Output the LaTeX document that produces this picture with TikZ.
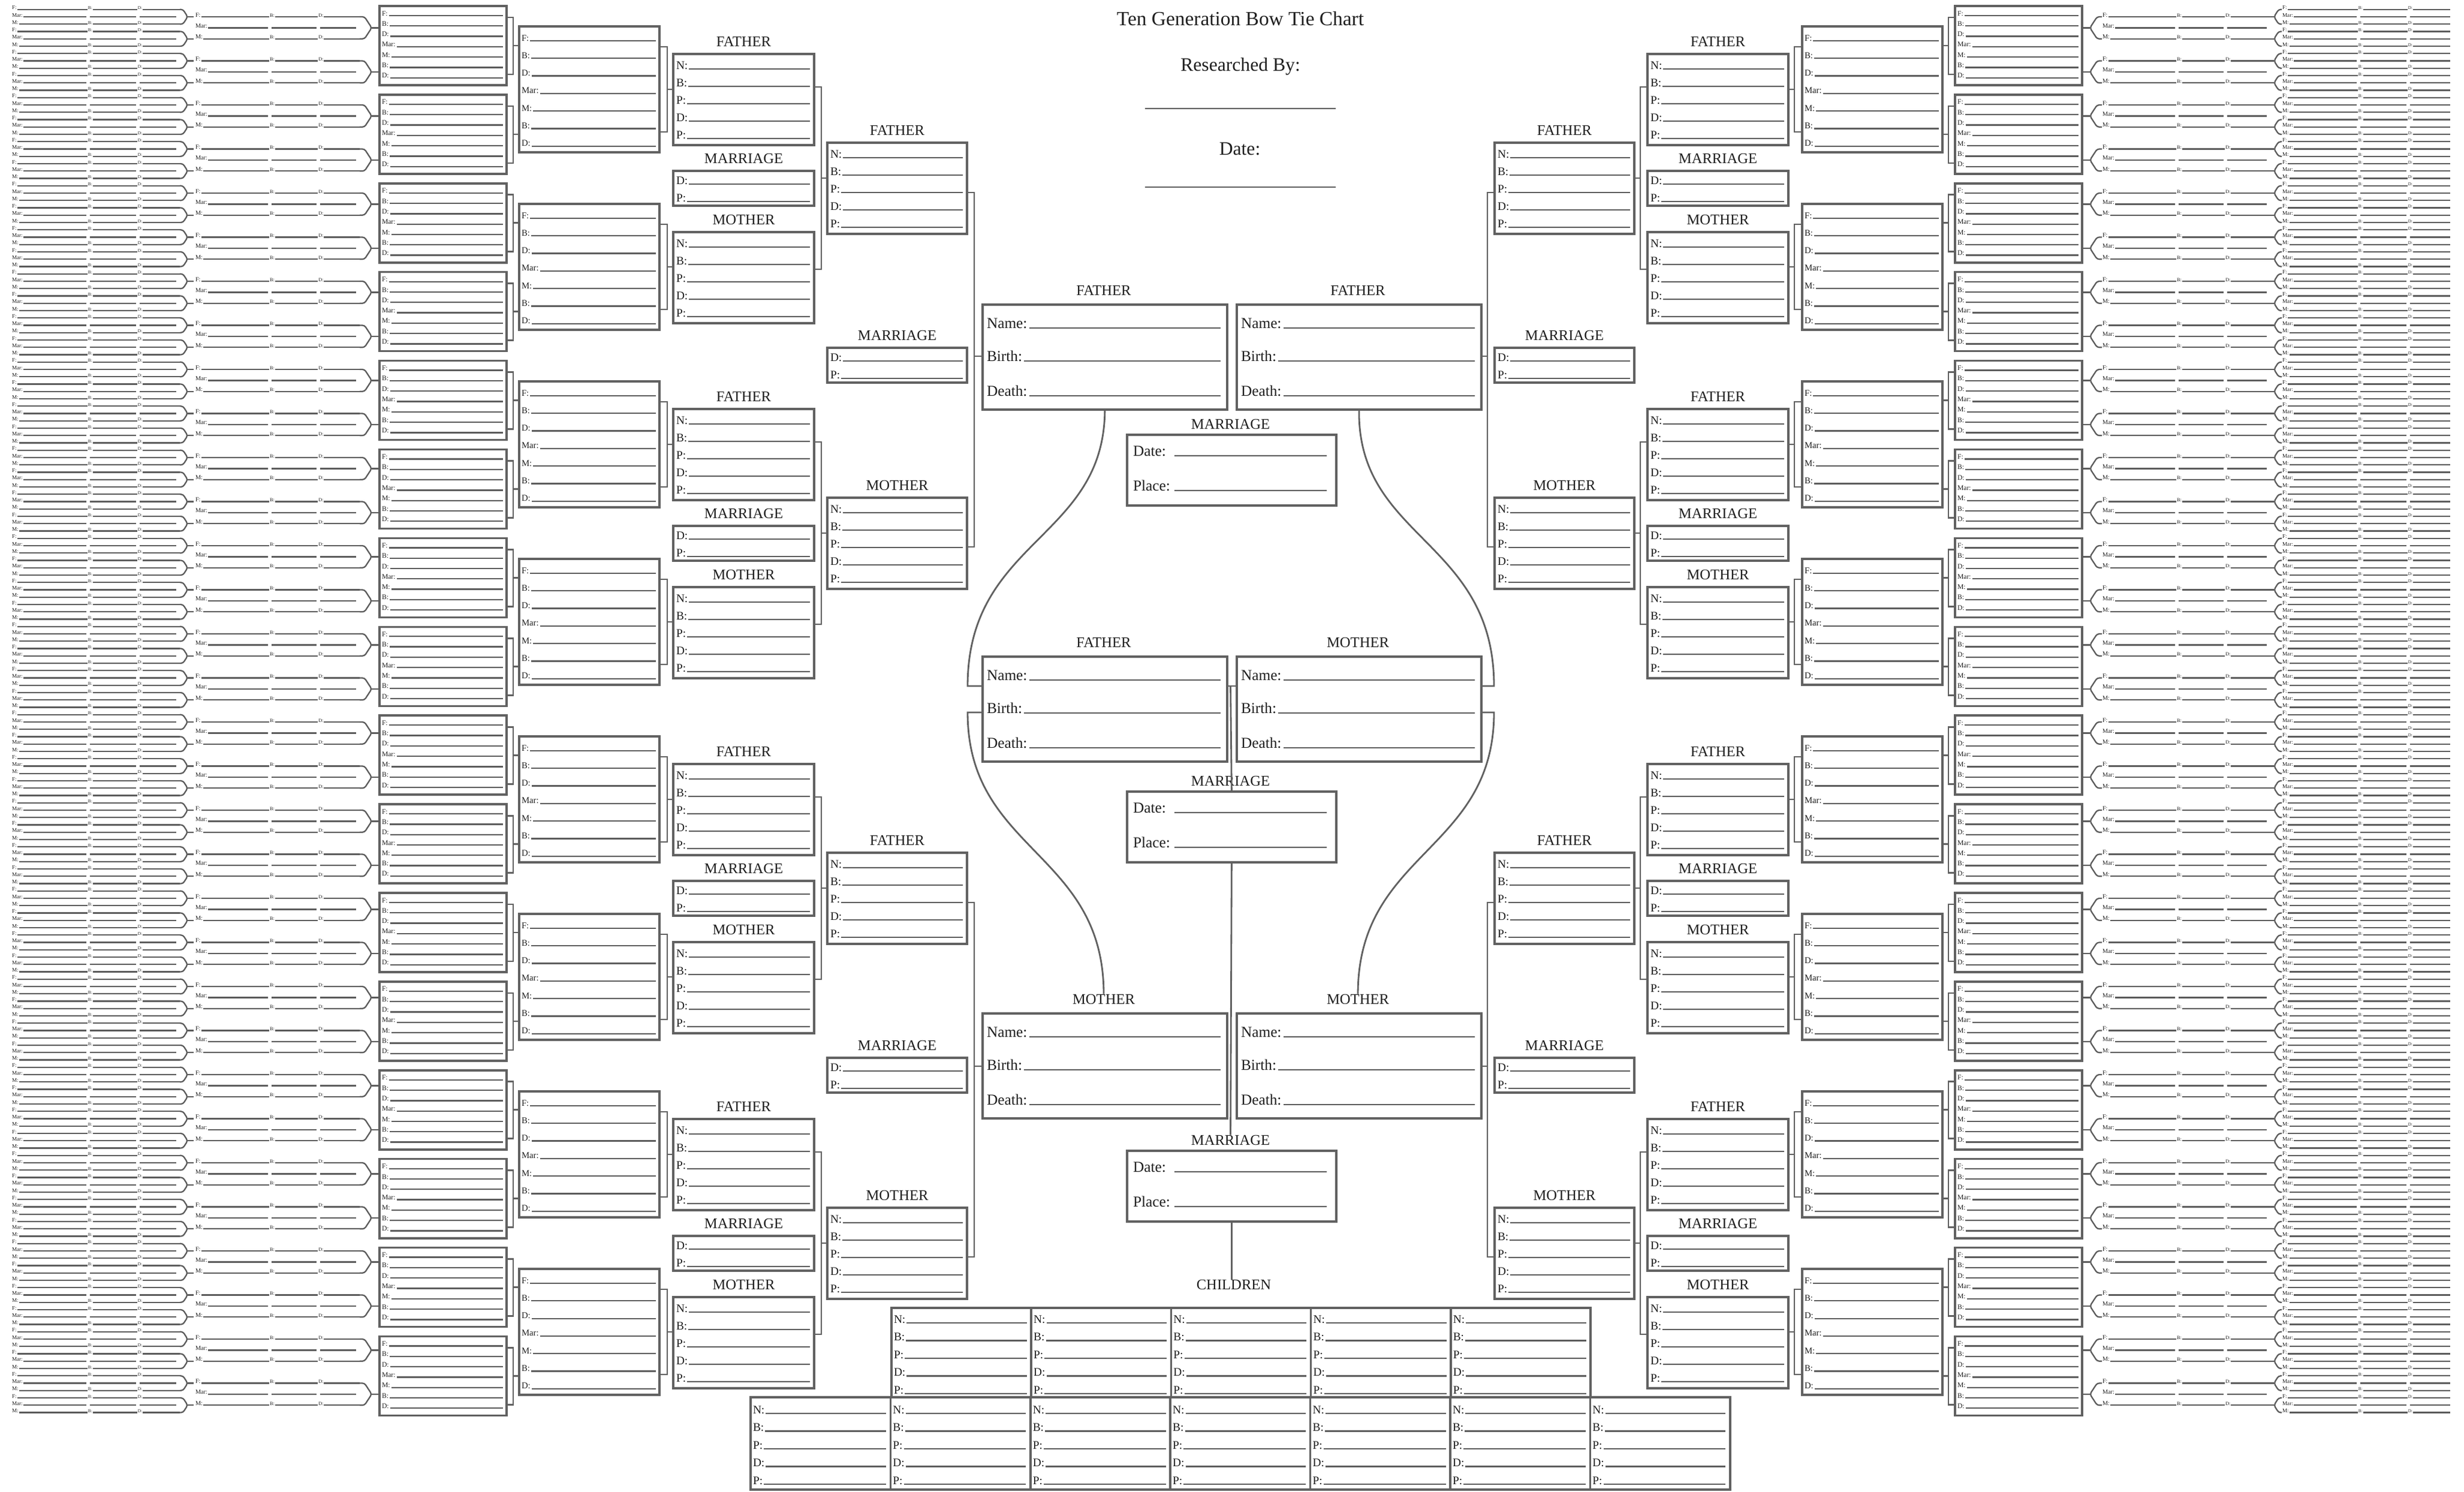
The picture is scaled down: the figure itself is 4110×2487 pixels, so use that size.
\documentclass[tikz,border=0pt]{standalone}
\usepackage{fontspec}
\setmainfont{Liberation Serif}
\definecolor{boxc}{gray}{0.38}
\definecolor{linec}{gray}{0.36}
\definecolor{txtc}{gray}{0.12}
\newcommand{\fsz}[1]{\fontsize{#1}{#1}\selectfont}
\tikzset{
  bx/.style={draw=boxc,line width=1pt},
  fl/.style={draw=linec,line width=0.7pt},
  tl/.style={draw=linec,line width=0.65pt},
  cn/.style={draw=boxc,line width=0.8pt},
  lab/.style={inner sep=0pt,outer sep=0pt,anchor=base west,text=txtc},
  hd/.style={inner sep=0pt,outer sep=0pt,anchor=base,text=txtc,font=\fsz{7}},
  bignode/.style={draw=boxc,line width=1pt,rectangle,inner sep=0pt,anchor=north west,minimum width=4.08cm,minimum height=1.75cm},
  marnode/.style={draw=boxc,line width=1pt,rectangle,inner sep=0pt,anchor=north west,minimum width=3.49cm,minimum height=1.18cm},
}
% big centre person box: name, xl, yt, heading
\newcommand{\myBigPer}[4]{%
  \node[bignode] (#1) at (#2,#3) {};
  \node[hd] (#1-h) at ({#2+204},{#3-14}) {#4};
  \foreach \lab/\o in {Name:/41,Birth:/96,Death:/154}{%
    \node[lab,font=\fsz{7.2}] (#1-t) at ({#2+9},{#3+\o}) {\lab};
    \draw[fl] (#1-t.base east) ++(3,0) -- ({#2+399},{#3+\o});
  }%
}
% big centre marriage box: name, xl, yt
\newcommand{\myBigMar}[3]{%
  \node[marnode] (#1) at (#2,#3) {};
  \node[hd] (#1-h) at ({#2+174.5},{#3-8}) {MARRIAGE};
  \foreach \lab/\o in {Date:/37,Place:/95}{%
    \node[lab,font=\fsz{7.2}] (#1-t) at ({#2+12},{#3+\o}) {\lab};
    \draw[fl] ({#2+81},{#3+\o}) -- ({#2+335},{#3+\o});
  }%
}
% 5-row person box: xl, yt, width, heading
\newcommand{\myPBox}[4]{%
  \draw[bx] (#1,#2) rectangle ({#1+#3},{#2+152});
  \node[hd] (ph) at ({#1+#3/2},{#2-13}) {#4};
  \foreach \lab [count=\i from 0] in {N:,B:,P:,D:,P:}{%
    \pgfmathsetmacro\yy{#2+25+29*\i}%
    \node[lab,font=\fsz{5.5}] (pt) at ({#1+5},\yy) {\lab};
    \draw[fl] (pt.base east) ++(2,0) -- ({#1+#3-7},\yy);
  }%
}
% small marriage box: xl, yt, width
\newcommand{\myMgBox}[3]{%
  \draw[bx] (#1,#2) rectangle ({#1+#3},{#2+58});
  \node[hd] (mh) at ({#1+#3/2},{#2-13}) {MARRIAGE};
  \foreach \lab/\o in {D:/22,P:/51}{%
    \node[lab,font=\fsz{5.5}] (mt) at ({#1+5},{#2+\o}) {\lab};
    \draw[fl] (mt.base east) ++(2,0) -- ({#1+#3-7},{#2+\o});
  }%
}
% couple box, 7 rows: xl, yt, width, height, first baseline, pitch, font size
\newcommand{\myCpBox}[7]{%
  \draw[bx] (#1,#2) rectangle ({#1+#3},{#2+#4});
  \foreach \lab [count=\i from 0] in {F:,B:,D:,Mar:,M:,B:,D:}{%
    \pgfmathsetmacro\yy{#2+#5+#6*\i}%
    \node[lab,font=\fsz{#7}] (ct) at ({#1+4},\yy) {\lab};
    \draw[tl] (ct.base east) ++(2,0) -- ({#1+#3-6},\yy);
  }%
}
% bracket: box edge x, bracket x, y top, y bottom, y tick, target x
\newcommand{\myBrk}[6]{\draw[cn] (#1,#3) -- (#2,#3) -- (#2,#4) -- (#1,#4) (#2,#5) -- (#6,#5);}
% line group: a, b, yc, dy, font, chevron base, chevron tip, target, mid-line end
\newcommand{\myLGrp}[9]{%
  \pgfmathsetmacro\gba{#1+0.455*(#2-#1)}%
  \pgfmathsetmacro\gbb{#1+0.75*(#2-#1)}%
  \pgfmathsetmacro\gyt{#3-#4}%
  \pgfmathsetmacro\gyb{#3+#4}%
  \pgfmathsetmacro\sfs{0.8*#5}%
  \pgfmathsetmacro\gcm{#6+0.4*(#7-#6)}%
  \foreach \yy/\lab in {\gyt/F:,\gyb/M:}{%
    \node[lab,font=\fsz{#5}] (ga) at ({#1+1},\yy) {\lab};
    \node[lab,font=\fsz{\sfs}] (gb) at (\gba,\yy) {B:};
    \node[lab,font=\fsz{\sfs}] (gc) at (\gbb,\yy) {D:};
    \draw[tl] (ga.base east) ++(1.5,0) -- ({\gba-1},\yy);
    \draw[tl] (gb.base east) ++(1,0) -- ({\gbb-1},\yy);
    \draw[tl] (gc.base east) ++(1,0) -- (#2,\yy);
  }%
  \node[lab,font=\fsz{#5}] (gm) at ({#1+1},#3) {Mar:};
  \draw[tl] (gm.base east) ++(1.5,0) -- ({\gba-3},#3) ({\gba+3},#3) -- ({\gbb-3},#3) ({\gbb+3},#3) -- (#9,#3);
  \draw[tl,rounded corners=1] (#6,\gyt) -- (\gcm,\gyt) -- (#7,#3) -- (\gcm,\gyb) -- (#6,\gyb);
  \draw[tl] (#7,#3) -- (#8,#3);
}
\begin{document}
\begin{tikzpicture}[x=0.01cm,y=-0.01cm]
\useasboundingbox (0,0) rectangle (4110,2487);
\fill[white] (0,0) rectangle (4110,2487);
% ---------- header ----------
\node[lab,anchor=base,font=\fsz{9.5}] (title) at (2069,42) {Ten Generation Bow Tie Chart};
\node[lab,anchor=base,font=\fsz{9}] (resby) at (2069,118) {Researched By:};
\coordinate (r1) at (1910,181); \coordinate (r2) at (2228,181);
\draw[fl] (r1) -- (r2);
\node[lab,anchor=base,font=\fsz{9}] (dt) at (2068,258) {Date:};
\coordinate (d1) at (1910,312); \coordinate (d2) at (2228,312);
\draw[fl] (d1) -- (d2);
% ---------- centre ----------
\myBigPer{CF1}{1637}{506}{FATHER}
\myBigPer{CF2}{2061}{506}{FATHER}
\myBigMar{M1}{1878}{723}
\myBigPer{CF3}{1637}{1093}{FATHER}
\myBigPer{CM3}{2061}{1093}{MOTHER}
\myBigMar{M2}{1878}{1318}
\myBigPer{CM4}{1637}{1688}{MOTHER}
\myBigPer{CM5}{2061}{1688}{MOTHER}
\myBigMar{M3}{1878}{1917}
\node[hd] (CH) at (2058,2150) {CHILDREN};
% centre connectors
\coordinate (c3a) at (1637,1144); \coordinate (c3b) at (1637,1188);
\coordinate (c4a) at (2469,1144); \coordinate (c4b) at (2469,1188);
\coordinate (tl1) at (2045,1144); \coordinate (tr1) at (2061,1144); \coordinate (tm) at (2052.5,1144);
\draw[cn] (CF1.south) .. controls (1841,900) and (1614,900) .. (1614,1144) -- (c3a);
\draw[cn] (c3b) -- (1614,1188) .. controls (1614,1420) and (1841,1420) .. (CM4-h.north);
\draw[cn] (CF2.south) .. controls (2265,900) and (2492,900) .. (2492,1144) -- (c4a);
\draw[cn] (c4b) -- (2492,1188) .. controls (2492,1420) and (2265,1420) .. (CM5-h.north);
\draw[cn] (tl1) -- (tr1);
\draw[cn] (tm) -- (M2.north);
\draw[cn] (M2.south) -- (M3-h.north);
\draw[cn] (M3.south) -- (M3.south |- CH.north);
% ---------- children ----------
\foreach \c in {0,...,4}{%
  \pgfmathsetmacro\cx{1487+233.2*\c}%
  \draw[bx] (\cx,2181) rectangle ({\cx+233.2},2330);
  \foreach \lab [count=\i from 0] in {N:,B:,P:,D:,P:}{%
    \pgfmathsetmacro\yy{2181+25+29.5*\i}%
    \node[lab,font=\fsz{5.5}] (kt) at ({\cx+4},\yy) {\lab};
    \draw[fl] (kt.base east) ++(2,0) -- ({\cx+226},\yy);
  }%
}
\foreach \c in {0,...,6}{%
  \pgfmathsetmacro\cx{1252+233.4*\c}%
  \draw[bx] (\cx,2330) rectangle ({\cx+233.4},2484);
  \foreach \lab [count=\i from 0] in {N:,B:,P:,D:,P:}{%
    \pgfmathsetmacro\yy{2330+27+29.5*\i}%
    \node[lab,font=\fsz{5.5}] (kt) at ({\cx+4},\yy) {\lab};
    \draw[fl] (kt.base east) ++(2,0) -- ({\cx+226},\yy);
  }%
}
% ---------- column A ----------
\foreach \h in {0,1}{%
  \pgfmathsetmacro\Y{1184*\h}%
  \myPBox{1380}{238+\Y}{233}{FATHER}
  \myMgBox{1380}{580+\Y}{233}
  \myPBox{1380}{830+\Y}{233}{MOTHER}
  \myPBox{2493}{238+\Y}{233}{FATHER}
  \myMgBox{2493}{580+\Y}{233}
  \myPBox{2493}{830+\Y}{233}{MOTHER}
  \myBrk{1613}{1625}{321+\Y}{912+\Y}{594+\Y}{1637}
  \myBrk{2493}{2481}{321+\Y}{912+\Y}{594+\Y}{2469}
}
% ---------- column B ----------
\foreach \g in {0,...,3}{%
  \pgfmathsetmacro\Y{592*\g}%
  \myPBox{1123}{90+\Y}{235}{FATHER}
  \myMgBox{1123}{285+\Y}{235}
  \myPBox{1123}{387+\Y}{235}{MOTHER}
  \myPBox{2748}{90+\Y}{235}{FATHER}
  \myMgBox{2748}{285+\Y}{235}
  \myPBox{2748}{387+\Y}{235}{MOTHER}
  \myBrk{1358}{1370}{145+\Y}{449+\Y}{297+\Y}{1380}
  \myBrk{2748}{2736}{145+\Y}{449+\Y}{297+\Y}{2726}
}
% ---------- column C ----------
\foreach \j in {0,...,7}{%
  \pgfmathsetmacro\yt{44+296*\j}%
  \myCpBox{866}{\yt}{234}{210}{24}{29.3}{4.2}
  \myCpBox{3006}{\yt}{234}{210}{24}{29.3}{4.2}
  \myBrk{1100}{1113}{\yt+34}{\yt+176}{\yt+105}{1123}
  \myBrk{3006}{2993}{\yt+34}{\yt+176}{\yt+105}{2983}
}
% ---------- column D ----------
\foreach \k in {0,...,15}{%
  \pgfmathsetmacro\yt{10+147.9*\k}%
  \myCpBox{633}{\yt}{212}{132}{16}{17.3}{3.3}
  \myCpBox{3261}{\yt}{212}{132}{16}{17.3}{3.3}
  \myBrk{845}{856}{\yt+19}{\yt+114}{\yt+66}{866}
  \myBrk{3261}{3250}{\yt+19}{\yt+114}{\yt+66}{3240}
}
% ---------- column E ----------
\foreach \m in {0,...,31}{%
  \pgfmathsetmacro\yc{46.375+73.5*\m}%
  \myLGrp{325}{600}{\yc}{18.375}{2.9}{600}{620}{633}{594}
  \myLGrp{3506}{3781}{\yc}{18.375}{2.9}{3506}{3486}{3473}{3781}
}
% ---------- column F ----------
\foreach \n in {0,...,63}{%
  \pgfmathsetmacro\yc{28+36.75*\n}%
  \myLGrp{19}{300}{\yc}{12.25}{2.6}{300}{313}{323}{294}
  \myLGrp{3806}{4087}{\yc}{12.25}{2.6}{3806}{3793}{3781}{4087}
}
\end{tikzpicture}
\end{document}
